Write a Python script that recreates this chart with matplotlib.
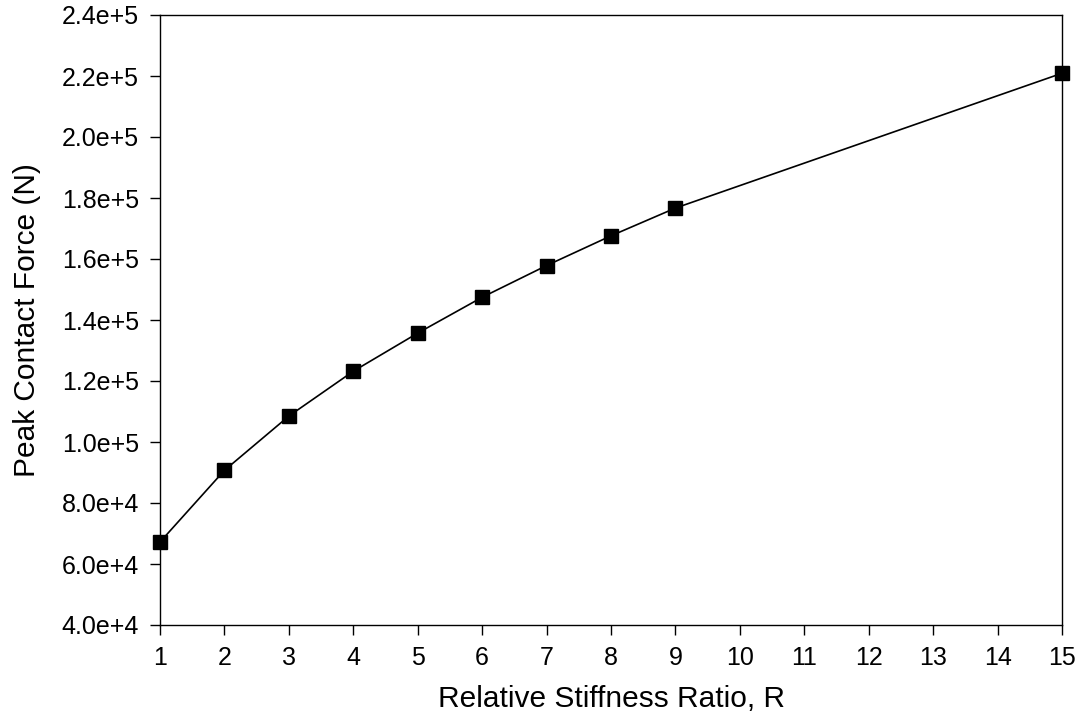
import numpy as np
import matplotlib
matplotlib.use("Agg")
import matplotlib.pyplot as plt
from matplotlib.ticker import FuncFormatter, MultipleLocator

plt.rcParams['font.family'] = ['Liberation Sans', 'DejaVu Sans']

# stiffness ratio R and peak contact force (N)
ratio = [1, 2, 3, 4, 5, 6, 7, 8, 9, 15]
peak_force = [6.72e4, 9.07e4, 1.085e5, 1.232e5, 1.357e5, 1.4745e5,
              1.5785e5, 1.676e5, 1.767e5, 2.209e5]


def sci_fmt(v, pos):
    e = int(np.floor(np.log10(abs(v)))) if v != 0 else 0
    return "{0:.1f}e+{1}".format(v / 10**e, e)


fig = plt.figure(figsize=(10.81, 7.26), dpi=100)
ax = fig.add_axes([160 / 1081, 1 - 625 / 726, (1062 - 160) / 1081, (625 - 15) / 726])

ax.plot(ratio, peak_force, color="black", linewidth=1.2,
        marker="s", markersize=10, markerfacecolor="black", markeredgecolor="black",
        clip_on=False, zorder=3)

ax.set_xlim(1, 15)
ax.set_ylim(4.0e4, 2.4e5)
ax.xaxis.set_major_locator(MultipleLocator(1))
ax.yaxis.set_major_locator(MultipleLocator(2.0e4))
ax.yaxis.set_major_formatter(FuncFormatter(sci_fmt))

ax.tick_params(axis="both", direction="out", length=7, width=1, labelsize=18, colors="black")
ax.tick_params(axis="x", pad=8)
ax.tick_params(axis="y", pad=8)
for s in ax.spines.values():
    s.set_linewidth(1)
    s.set_color("black")

ax.set_xlabel("Relative Stiffness Ratio, R", fontsize=21.5, labelpad=11)
ax.set_ylabel("Peak Contact Force (N)", fontsize=21.5, labelpad=15)

fig.savefig("out.png", dpi=100)
